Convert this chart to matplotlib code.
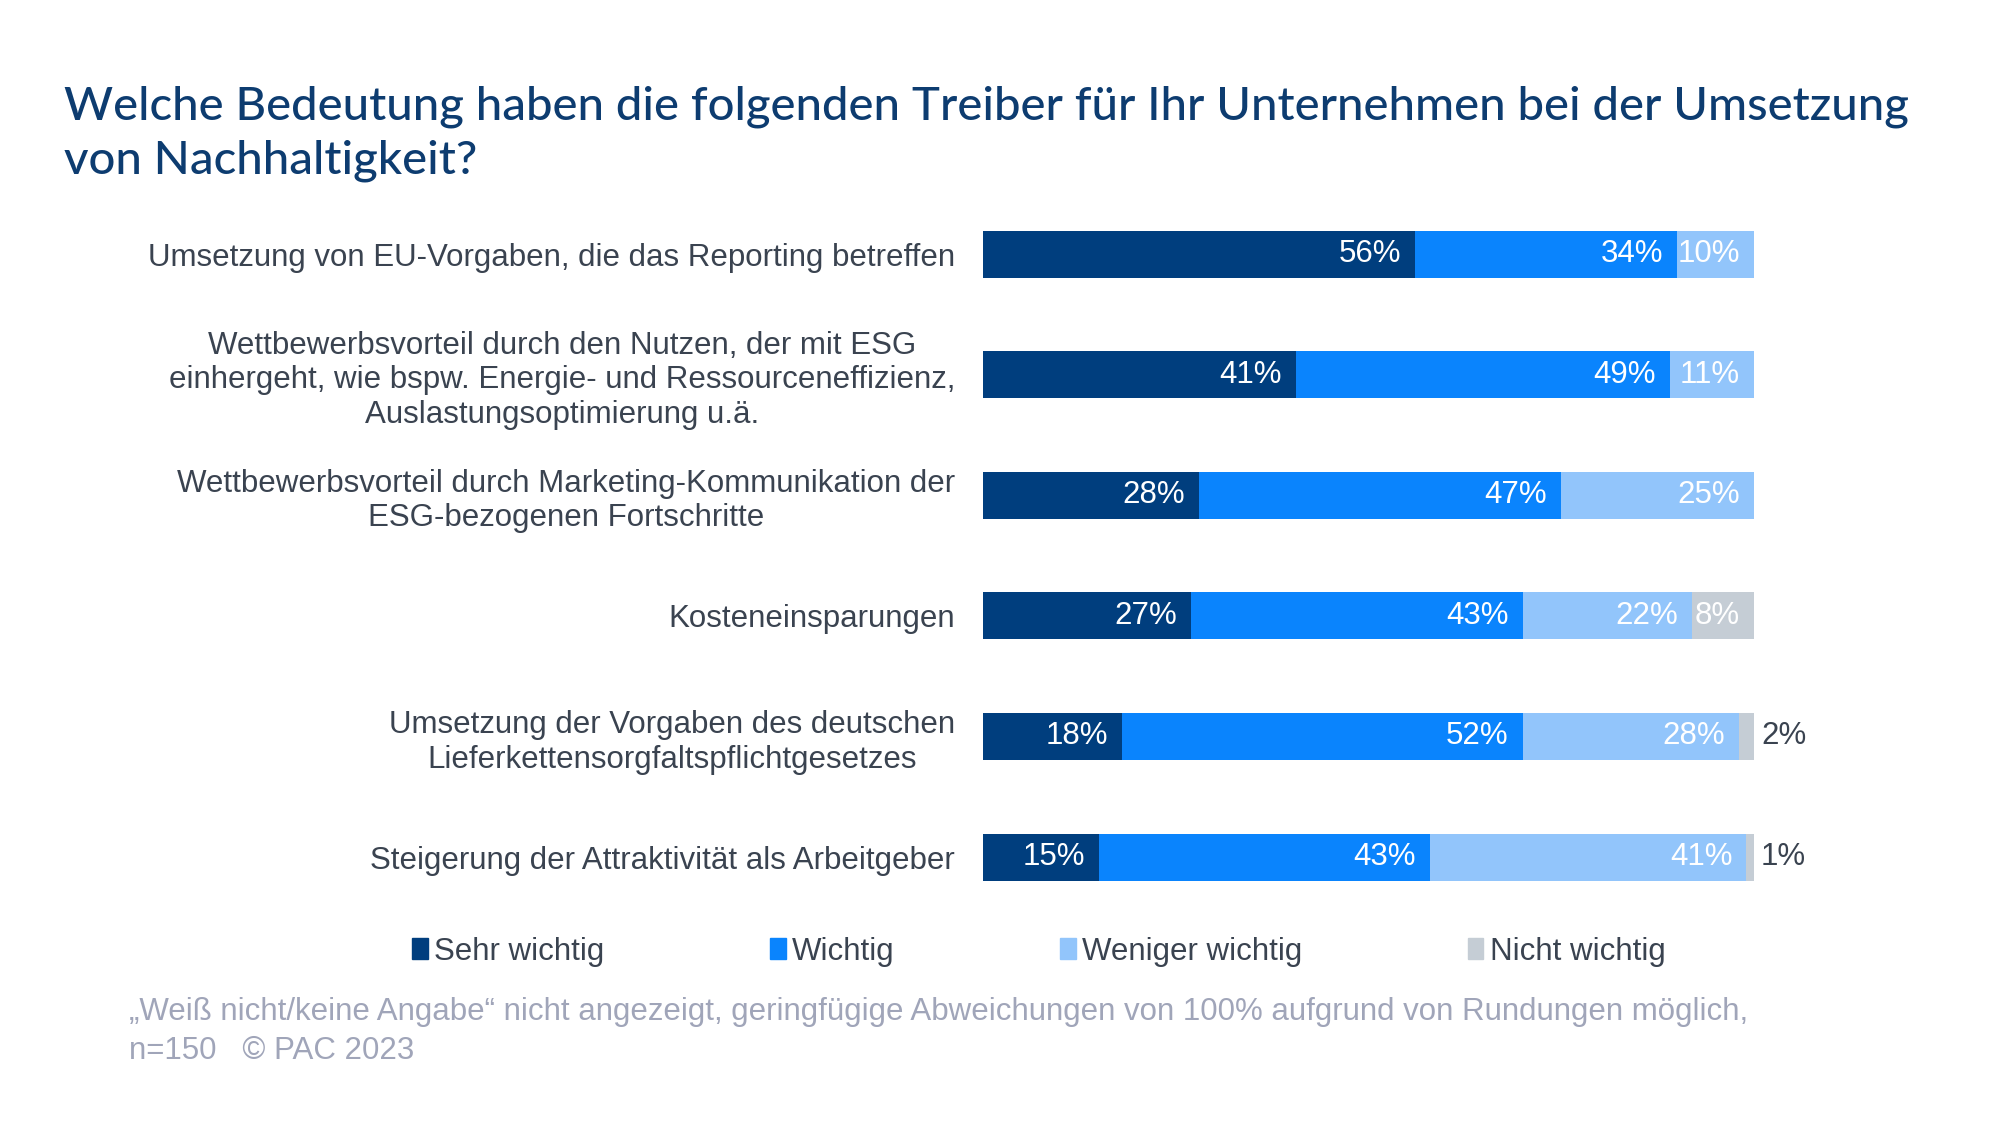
import matplotlib.pyplot as plt
from matplotlib.patches import Patch
import numpy as np

categories = [
    'Umsetzung von EU-Vorgaben, die das Reporting betreffen',
    'Wettbewerbsvorteil durch den Nutzen, der mit ESG\neinhergeht, wie bspw. Energie- und Ressourceneffizienz,\nAuslastungsoptimierung u.ä.',
    'Wettbewerbsvorteil durch Marketing-Kommunikation der\nESG-bezogenen Fortschritte',
    'Kosteneinsparungen',
    'Umsetzung der Vorgaben des deutschen\nLieferkettensorgfaltspflichtgesetzes',
    'Steigerung der Attraktivität als Arbeitgeber',
]
series = ['Sehr wichtig', 'Wichtig', 'Weniger wichtig', 'Nicht wichtig']
sehr_wichtig = [56, 41, 28, 27, 18, 15]
wichtig = [34, 49, 47, 43, 52, 43]
weniger_wichtig = [10, 11, 25, 22, 28, 41]
nicht_wichtig = [0, 0, 0, 8, 2, 1]

colors = ['#003e7e', '#0a84fd', '#92c5fb', '#c5cdd5']
label_col = '#3a4350'

plt.rcParams['font.family'] = ['Liberation Sans', 'DejaVu Sans']

fig = plt.figure(figsize=(20, 11.25), dpi=100)
ax = fig.add_axes([0.4915, 0.1846, 0.3855, 0.6432])

data = np.array([sehr_wichtig, wichtig, weniger_wichtig, nicht_wichtig], dtype=float)
totals = data.sum(axis=0)
shares = data / totals * 100
y = np.arange(len(categories))

left = np.zeros(len(categories))
for k in range(len(series)):
    ax.barh(y, shares[k], left=left, height=0.39, color=colors[k], label=series[k])
    for i in range(len(categories)):
        v = data[k, i]
        if v == 0:
            continue
        if v >= 5:
            ax.annotate(f'{int(v)}%', (left[i] + shares[k, i], y[i]), xytext=(-14, 0),
                        textcoords='offset pixels', ha='right', va='center',
                        color='white', fontsize=22.5)
        else:
            ax.annotate(f'{int(v)}%', (left[i] + shares[k, i], y[i]), xytext=(7, 0),
                        textcoords='offset pixels', ha='left', va='center',
                        color=label_col, fontsize=22.5)
    left += shares[k]

ax.set_xlim(0, 100)
ax.set_ylim(len(categories) - 0.5, -0.5)
ax.set_yticks(y)
ax.set_yticklabels(categories, fontsize=22.5, color=label_col, multialignment='center',
                   linespacing=1.2)
ax.tick_params(axis='y', length=0, pad=20)
ax.set_xticks([])
for s in ax.spines.values():
    s.set_visible(False)

fig.text(0.032, 0.881, 'Welche Bedeutung haben die folgenden Treiber für Ihr Unternehmen bei der Umsetzung\nvon Nachhaltigkeit?',
         fontsize=34, color='#0d3c70', family=['Lato', 'DejaVu Sans'], fontweight='medium',
         va='center', ha='left', linespacing=1.33)

handles = [Patch(color=c) for c in colors]
fig.legend(handles, series, loc='center left', bbox_to_anchor=(0.192, 0.154), ncol=4,
           frameon=False, fontsize=22.5, handlelength=0.5, handleheight=0.65,
           handletextpad=0.2, columnspacing=5.3, labelcolor=label_col)

fig.text(0.0645, 0.083, '„Weiß nicht/keine Angabe“ nicht angezeigt, geringfügige Abweichungen von 100% aufgrund von Rundungen möglich,\nn=150   © PAC 2023',
         fontsize=22.5, color='#a0a5b9', ha='left', va='center', linespacing=1.4)

fig.savefig('out.png', dpi=100)
